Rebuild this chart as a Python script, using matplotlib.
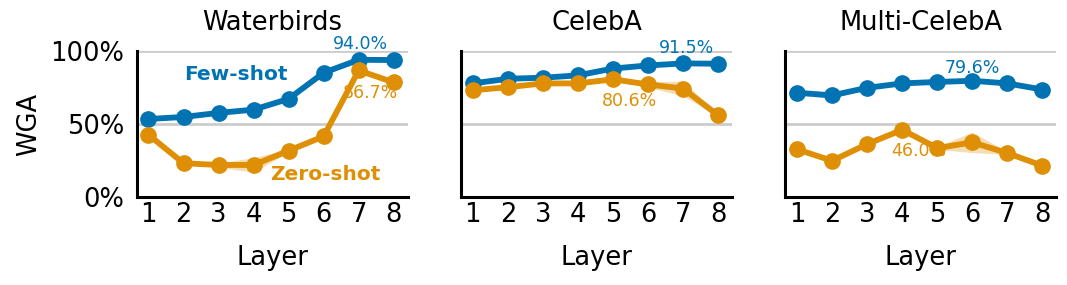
import numpy as np
import matplotlib
matplotlib.use('Agg')
import matplotlib.pyplot as plt

layers = [1, 2, 3, 4, 5, 6, 7, 8]
titles = ['Waterbirds', 'CelebA', 'Multi-CelebA']

# WGA (%) per layer
wb_few = [53.4, 54.8, 57.6, 59.8, 67.2, 85.1, 94.0, 93.8]
wb_zero = [42.6, 23.1, 21.9, 21.9, 31.7, 41.5, 86.7, 78.5]
ca_few = [77.8, 81.0, 81.7, 83.3, 88.0, 90.1, 91.5, 91.3]
ca_zero = [73.1, 75.2, 77.8, 77.8, 80.6, 77.1, 74.3, 56.0]
mc_few = [71.4, 69.6, 74.8, 77.8, 78.8, 79.6, 77.8, 73.6]
mc_zero = [32.6, 24.8, 36.2, 46.0, 33.5, 37.4, 30.1, 21.4]

# std across seeds
wb_few_sd = [1.5, 1, 1, 1, 1, 1, 1, 1]
wb_zero_sd = [1, 1, 1.5, 5, 1, 1, 1, 1]
ca_few_sd = [1, 1, 1, 1, 1, 1, 1, 1]
ca_zero_sd = [1, 1, 1, 1, 1, 2, 5, 1]
mc_few_sd = [1.5, 2, 1, 1, 1, 1, 1, 1]
mc_zero_sd = [1, 1, 1, 1, 1, 7, 1, 1]

few = [wb_few, ca_few, mc_few]
zero = [wb_zero, ca_zero, mc_zero]
few_sd = [wb_few_sd, ca_few_sd, mc_few_sd]
zero_sd = [wb_zero_sd, ca_zero_sd, mc_zero_sd]

blue = '#0173b2'
orange = '#de8f05'
fs = 18.5

fig, axes = plt.subplots(1, 3, figsize=(10.67, 2.85), dpi=100)
plt.subplots_adjust(left=0.128, right=0.99, bottom=0.309, top=0.821, wspace=0.196)

x = np.array(layers)
for i, ax in enumerate(axes):
    for ys, sd, c in [(few[i], few_sd[i], blue), (zero[i], zero_sd[i], orange)]:
        ys = np.array(ys); sd = np.array(sd)
        ax.fill_between(x, ys - sd, ys + sd, color=c, alpha=0.3, lw=0, zorder=3)
        ax.plot(x, ys, color=c, lw=4.2, marker='o', ms=11, zorder=4, clip_on=False)
    for yy in [50, 100]:
        ax.axhline(yy, color='#cccccc', lw=2, zorder=1)
    ax.set_ylim(0, 100)
    ax.set_xlim(0.66, 8.4)
    ax.set_xticks(layers)
    ax.set_yticks([0, 50, 100])
    if i == 0:
        ax.set_yticklabels(['0%', '50%', '100%'])
        ax.set_ylabel('WGA', fontsize=fs, labelpad=6)
    else:
        ax.set_yticklabels([])
    ax.tick_params(axis='x', length=0, labelsize=fs, pad=4)
    ax.tick_params(axis='y', length=0, labelsize=fs, pad=9)
    ax.set_xlabel('Layer', fontsize=fs, labelpad=12)
    ax.set_title(titles[i], fontsize=fs, pad=15)
    for s in ['top', 'right']:
        ax.spines[s].set_visible(False)
    for s in ['left', 'bottom']:
        ax.spines[s].set_linewidth(2.2)

ann = 12.5
lab = 14.5
a = axes[0]
a.text(7.06, 104.8, '94.0%', color=blue, fontsize=ann, ha='center', va='center', zorder=2)
a.text(7.34, 71.2, '86.7%', color=orange, fontsize=ann, ha='center', va='center', zorder=2)
a.text(3.49, 84.2, 'Few-shot', color=blue, fontsize=lab, fontweight='bold', ha='center', va='center')
a.text(6.06, 15.7, 'Zero-shot', color=orange, fontsize=lab, fontweight='bold', ha='center', va='center')
a = axes[1]
a.text(7.11, 102, '91.5%', color=blue, fontsize=ann, ha='center', va='center', zorder=2)
a.text(5.46, 66, '80.6%', color=orange, fontsize=ann, ha='center', va='center', zorder=2)
a = axes[2]
a.text(6.0, 88.1, '79.6%', color=blue, fontsize=ann, ha='center', va='center', zorder=2)
a.text(4.46, 31.7, '46.0%', color=orange, fontsize=ann, ha='center', va='center', zorder=2)

plt.savefig('out.png', dpi=100)
